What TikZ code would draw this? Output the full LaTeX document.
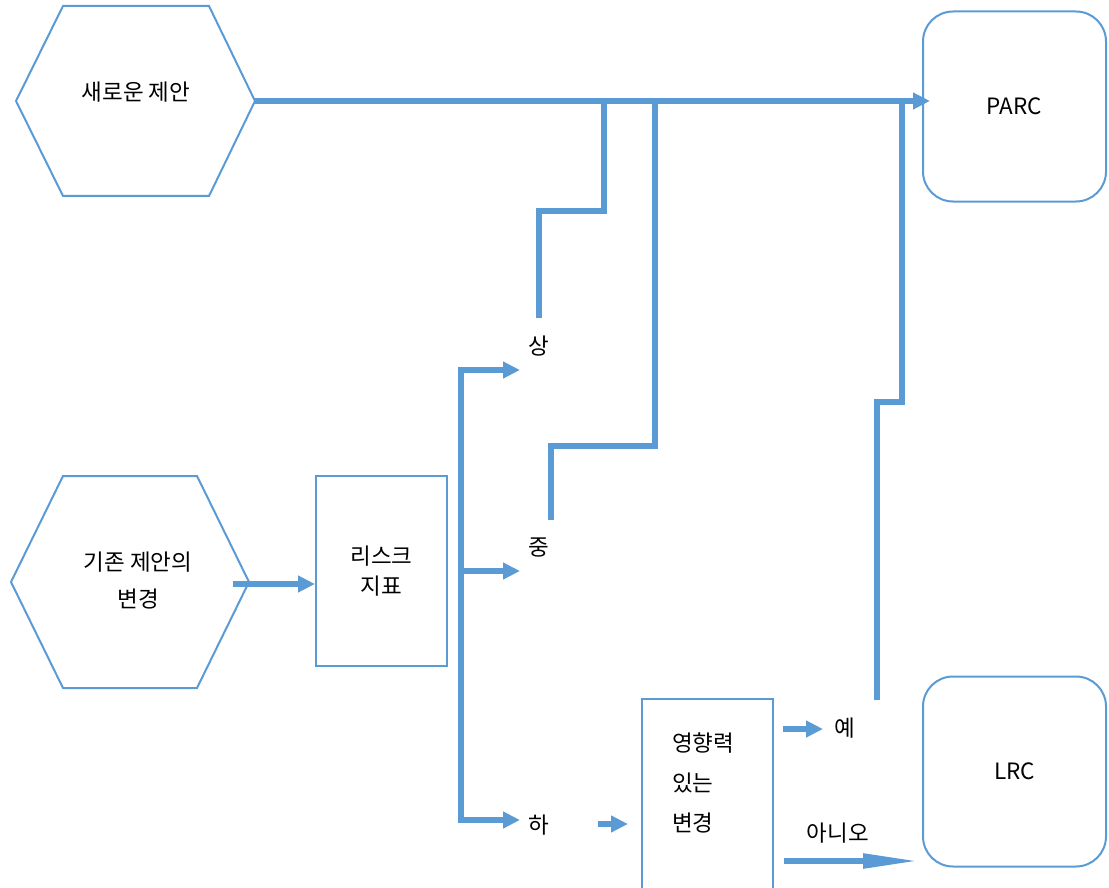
\documentclass[tikz,border=0pt]{standalone}
\usepackage{fontspec}
\setmainfont{Noto Sans CJK KR}
\usetikzlibrary{arrows.meta}
\definecolor{officeblue}{HTML}{5B9BD5}

\begin{document}
\begin{tikzpicture}[x=1pt,y=-1pt,
		every node/.style={font=\fontsize{22.5}{27}\selectfont},
		frame/.style={draw=officeblue,line width=2pt},
		roundbox/.style={frame,rounded corners=30pt,minimum width=183pt,minimum height=190pt},
		flow/.style={draw=officeblue,line width=5.5pt},
		arr/.style={flow,-{Triangle[length=17pt,width=16pt]}},
		longarr/.style={flow,-{Triangle[length=55pt,width=14pt]}}]
	\useasboundingbox (0,0) rectangle (1109,888);
	% hexagons
	\draw[frame] (63,6) -- (209,6) -- (255,101) -- (209,196) -- (63,196) -- (16,101) -- cycle;
	\node (new) at (136,92) {새로운 제안};
	\coordinate (new-out) at (255,101);
	\draw[frame] (63,476) -- (197,476) -- (249,582) -- (197,688) -- (63,688) -- (11,582) -- cycle;
	\node[align=center,font=\fontsize{22.5}{37}\selectfont] (change) at (138,581) {기존 제안의\\변경};
	\coordinate (change-out) at (233,584);
	% boxes
	\node[frame,minimum width=131pt,minimum height=190pt,align=center,font=\fontsize{22.5}{30}\selectfont] (risk) at (381.5,571) {리스크\\지표};
	\node[frame,minimum width=131pt,minimum height=199pt] (impact) at (707.5,798.5) {};
	\node[align=left,font=\fontsize{22.5}{40}\selectfont,anchor=north west,inner sep=0pt] (impact-text) at (672,733) {영향력\\있는\\변경};
	\node[roundbox] (parc) at (1014.5,106.5) {PARC};
	\node[roundbox] (lrc) at (1014.5,771.5) {LRC};
	% labels
	\foreach \name/\txt/\xx/\yy in {high/상/539/346, mid/중/539/548, low/하/539/825, yes/예/845/728, no/아니오/838/833}
		\node (\name) at (\xx,\yy) {\txt};
	\foreach \name/\xx/\yy in {high-in/520/370, mid-in/520/571, low-in/520/820, high-out/539/318, mid-out/551/520, yes-out/877/700}
		\coordinate (\name) at (\xx,\yy);
	% connectors
	\draw[arr] (new-out) -- ([xshift=8pt]parc.west |- new-out);
	\draw[arr] (change-out) -- (risk.west |- change-out);
	\draw[flow,{Triangle[length=17pt,width=16pt]}-{Triangle[length=17pt,width=16pt]}] (high-in) -- (461,370) -- (461,820) -- (low-in);
	\draw[arr] (461,571) -- (mid-in);
	\draw[flow] (high-out) |- (604,211) -- (604,101);
	\draw[flow] (mid-out) |- (655,446) -- (655,101);
	\draw[flow] (yes-out) |- (902,402) -- (902,101);
	\draw[arr] (598,824) -- ([xshift=-13pt]impact.west |- 0,824);
	\draw[arr] (783,729) -- (823,729);
	\draw[longarr] (784,861) -- (918,861);
\end{tikzpicture}
\end{document}
